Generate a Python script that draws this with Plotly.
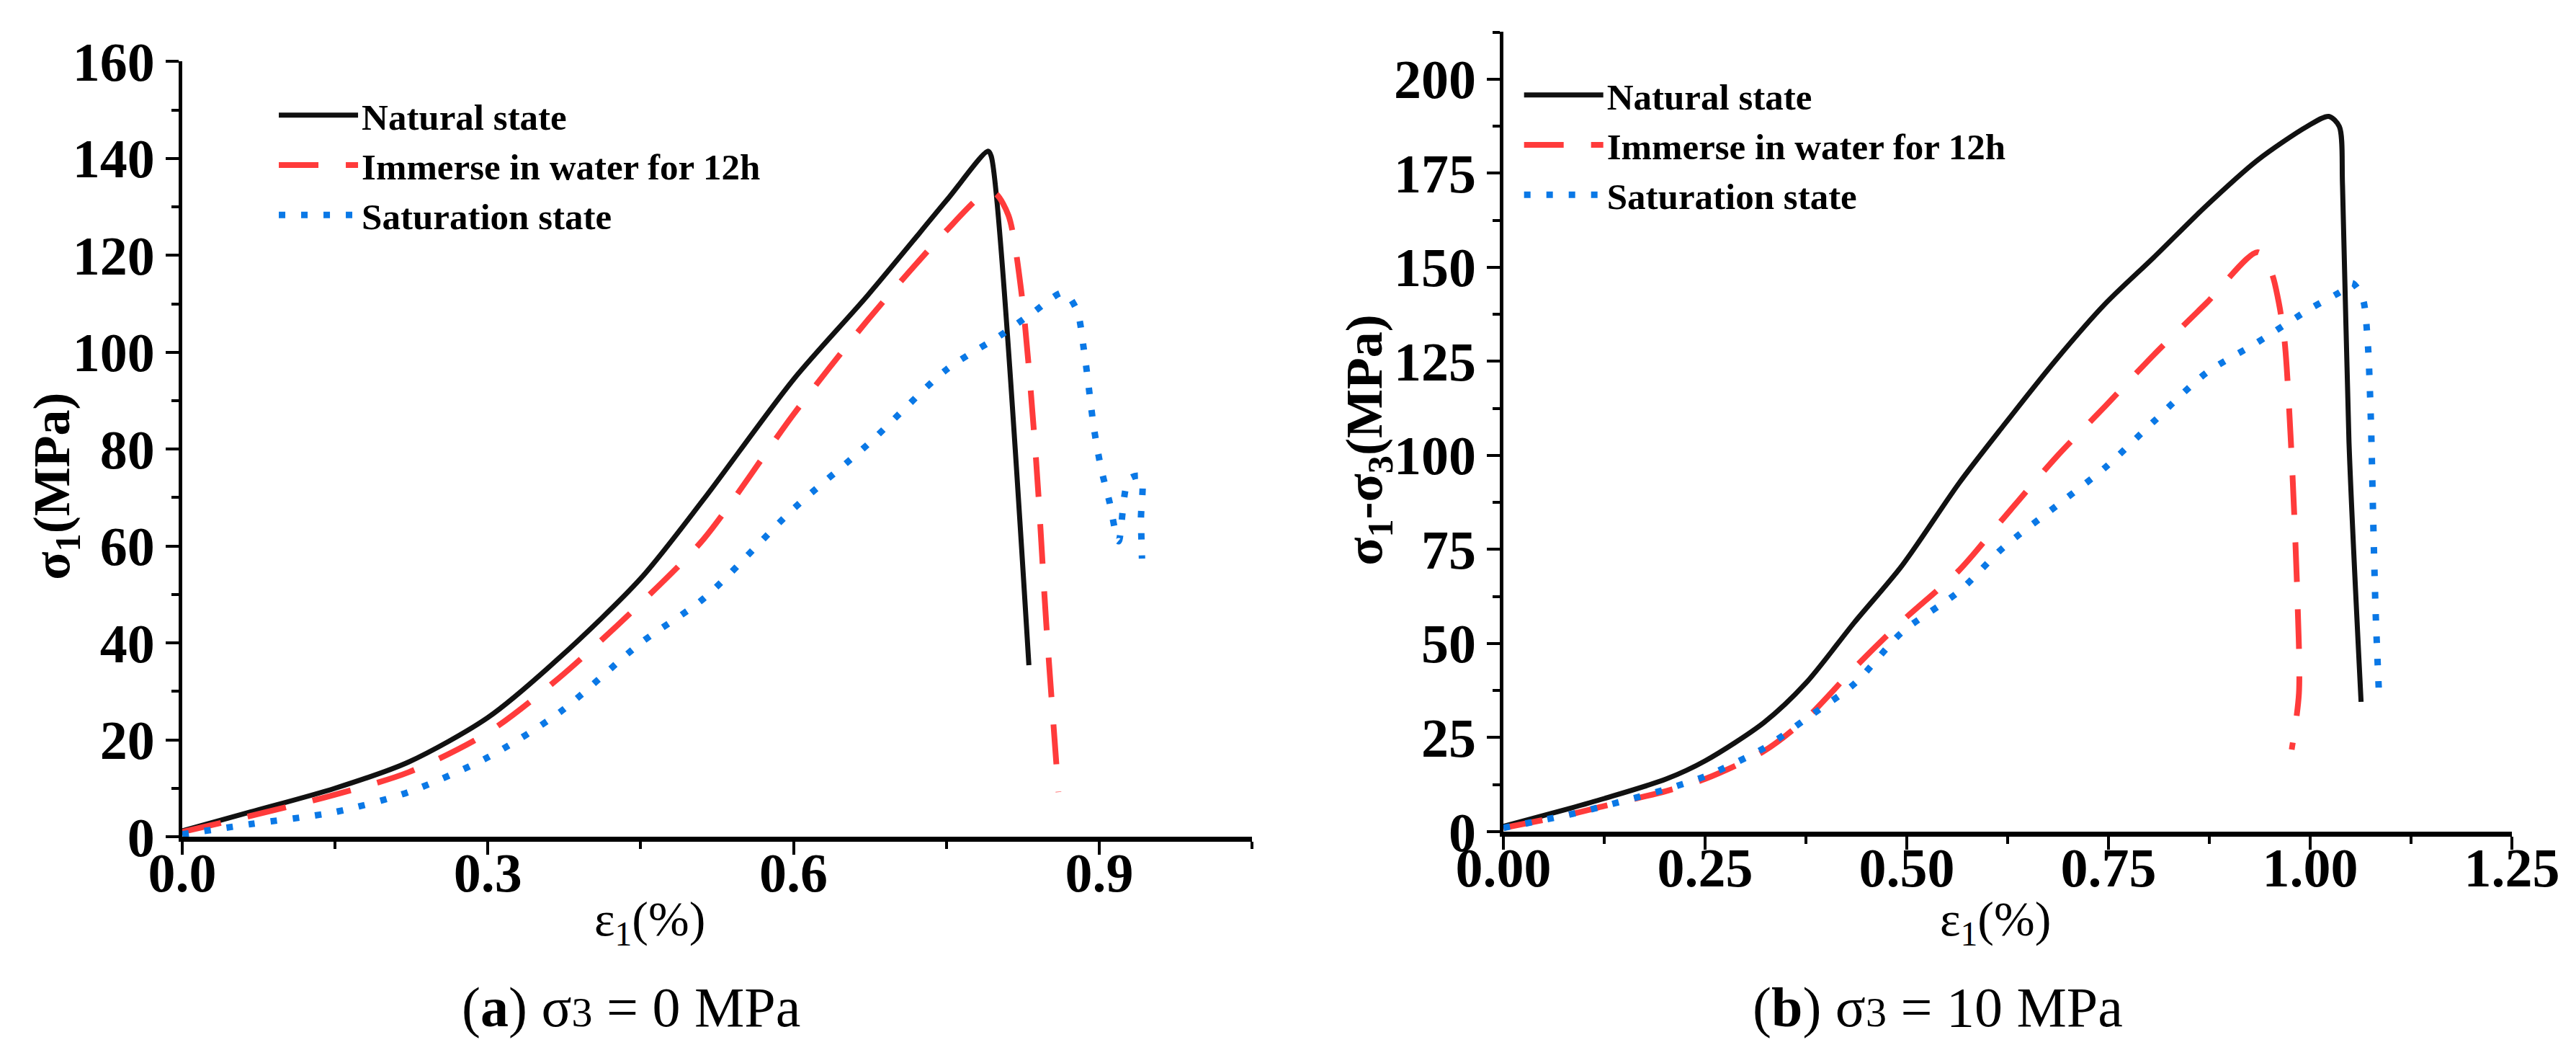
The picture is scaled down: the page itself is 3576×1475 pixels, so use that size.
import plotly.graph_objects as go

# (a) sigma3 = 0 MPa
x_nat_a = [0, 0.067, 0.15, 0.222, 0.3, 0.37, 0.45, 0.512, 0.6, 0.673, 0.75, 0.791, 0.794, 0.831]
y_nat_a = [1.2, 5.1, 10, 15.4, 24.6, 36.9, 53.3, 69.7, 94.4, 111.8, 131.3, 141.5, 140.5, 35.4]

x_imm_a = [0, 0.067, 0.15, 0.222, 0.3, 0.37, 0.45, 0.512, 0.6, 0.673, 0.75, 0.788, 0.798, 0.811,
           0.824, 0.838, 0.848, 0.86]
y_imm_a = [1, 4.3, 8.7, 13.3, 21.5, 32.8, 48.2, 61.5, 87.2, 106.7, 125.1, 132.8, 132.8, 128.2,
           111.8, 77.9, 44.1, 9.2]

x_sat_a = [0, 0.067, 0.15, 0.222, 0.3, 0.37, 0.45, 0.512, 0.6, 0.673, 0.75, 0.804, 0.835, 0.865,
           0.878, 0.885, 0.895, 0.902, 0.91, 0.919, 0.929, 0.941, 0.941, 0.942]
y_sat_a = [0.5, 2.6, 5.1, 9.2, 16.4, 25.6, 40, 49.2, 67.7, 81, 96.4, 103.6, 108.2, 112.3,
           108.7, 100.5, 84.1, 75.9, 69.2, 61, 73.8, 74.4, 65.6, 57.4]

# (b) sigma3 = 10 MPa
x_nat_b = [0, 0.081, 0.125, 0.202, 0.25, 0.323, 0.375, 0.435, 0.494, 0.565, 0.619, 0.685, 0.746,
           0.806, 0.871, 0.935, 0.996, 1.023, 1.036, 1.04, 1.048, 1.063]
y_nat_b = [1.4, 6.1, 8.8, 14, 18.8, 29, 39.5, 55.6, 70.7, 92.7, 107.7, 125.4, 140.3,
           152.6, 166.3, 178.5, 187.4, 190.1, 187.4, 171.7, 103.6, 34.5]

x_imm_b = [0, 0.081, 0.125, 0.202, 0.25, 0.323, 0.375, 0.435, 0.494, 0.565, 0.619, 0.685, 0.746,
           0.806, 0.871, 0.935, 0.952, 0.96, 0.968, 0.976, 0.984, 0.986, 0.977]
y_imm_b = [1, 4.5, 6.8, 10.8, 14, 21.4, 30, 43.5, 55.9, 69.5, 83.1, 99.5, 113.1,
           126.7, 140.4, 154, 148.5, 141.7, 130.8, 103.6, 62.7, 36.8, 21.8]

x_sat_b = [0, 0.081, 0.125, 0.202, 0.25, 0.323, 0.375, 0.435, 0.494, 0.565, 0.619, 0.685, 0.746,
           0.806, 0.871, 0.935, 1.0, 1.04, 1.052, 1.065, 1.071, 1.075, 1.078, 1.081, 1.085]
y_sat_b = [1, 4.5, 6.8, 11.3, 14.7, 22.2, 30, 39.3, 53, 63.9, 75.4, 86.5, 96.8,
           109, 121.9, 130.1, 139, 143.8, 145.8, 141.7, 130.8, 110.4, 83.1, 58.6, 37.5]

names = ["Natural state", "Immerse in water for 12h", "Saturation state"]

xticks_a = [0, 0.3, 0.6, 0.9]
xticktext_a = ["0.0", "0.3", "0.6", "0.9"]
yticks_a = [0, 20, 40, 60, 80, 100, 120, 140, 160]
xticks_b = [0, 0.25, 0.5, 0.75, 1.0, 1.25]
xticktext_b = ["0.00", "0.25", "0.50", "0.75", "1.00", "1.25"]
yticks_b = [0, 25, 50, 75, 100, 125, 150, 175, 200]

FONT = "Liberation Serif"
BLACK = "#111111"
RED = "#ff3b3b"
BLUE = "#0a78e6"

styles = [
    dict(color=BLACK, width=7, dash="solid"),
    dict(color=RED, width=8, dash="55px,38px"),
    dict(color=BLUE, width=9, dash="9px,22px"),
]

fig = go.Figure()

panel_a = [(x_nat_a, y_nat_a), (x_imm_a, y_imm_a), (x_sat_a, y_sat_a)]
panel_b = [(x_nat_b, y_nat_b), (x_imm_b, y_imm_b), (x_sat_b, y_sat_b)]

for i, (xs, ys) in enumerate(panel_a):
    fig.add_trace(go.Scatter(x=xs, y=ys, mode="lines", name=names[i], line=styles[i],
                             line_shape="spline", line_smoothing=0.8,
                             xaxis="x", yaxis="y", legend="legend"))
for i, (xs, ys) in enumerate(panel_b):
    fig.add_trace(go.Scatter(x=xs, y=ys, mode="lines", name=names[i], line=styles[i],
                             line_shape="spline", line_smoothing=0.8,
                             xaxis="x2", yaxis="y2", legend="legend2"))

tickfont = dict(family=FONT, size=76, color="black", weight="bold")
common = dict(showline=True, linecolor="black", showgrid=False, zeroline=False,
              ticks="outside", tickcolor="black", tickwidth=4, ticklen=18,
              tickfont=tickfont, automargin=False)
minor_x = dict(ticks="outside", ticklen=10, tickwidth=4, tickcolor="black", tick0=0)

fig.update_layout(
    width=3576, height=1475,
    margin=dict(l=0, r=0, t=0, b=0, autoexpand=False),
    paper_bgcolor="white", plot_bgcolor="white",
    xaxis=dict(domain=[0.0685, 0.4838], range=[0, 1.05], anchor="y",
               tickvals=xticks_a, ticktext=xticktext_a, linewidth=7, ticklabelstandoff=-40,
               minor=dict(dtick=0.15, **minor_x), **common),
    yaxis=dict(domain=[0.2183, 0.9475], range=[0, 160], anchor="x",
               tickvals=yticks_a, linewidth=5,
               minor=dict(dtick=10, **minor_x), **common),
    xaxis2=dict(domain=[0.5814, 0.9729], range=[0, 1.25], anchor="y2",
                tickvals=xticks_b, ticktext=xticktext_b, linewidth=7, ticklabelstandoff=-40,
                minor=dict(dtick=0.125, **minor_x), **common),
    yaxis2=dict(domain=[0.2231, 0.9756], range=[0, 212.6], anchor="x2",
                tickvals=yticks_b, linewidth=5,
                minor=dict(dtick=12.5, **minor_x), **common),
    legend=dict(x=0.1046, y=0.924, xanchor="left", yanchor="top", bgcolor="rgba(0,0,0,0)",
                font=dict(family=FONT, size=51, color="black", weight="bold"),
                itemwidth=110, tracegroupgap=0),
    legend2=dict(x=0.588, y=0.943, xanchor="left", yanchor="top", bgcolor="rgba(0,0,0,0)",
                 font=dict(family=FONT, size=51, color="black", weight="bold"),
                 itemwidth=110, tracegroupgap=0),
    showlegend=True,
)

ann = [
    dict(text="<b>σ<sub>1</sub>(MPa)</b>", x=0.0193, y=0.548, textangle=-90, size=72),
    dict(text="<b>σ<sub>1</sub>-σ<sub>3</sub>(MPa)</b>", x=0.5288, y=0.592, textangle=-90, size=72),
    dict(text="ε<sub>1</sub>(%)", x=0.25, y=0.138, textangle=0, size=68),
    dict(text="ε<sub>1</sub>(%)", x=0.7724, y=0.138, textangle=0, size=68),
    dict(text="(<b>a</b>) σ<span style='font-size:58px'>3</span> = 0 MPa", x=0.2427, y=0.058, textangle=0, size=78),
    dict(text="(<b>b</b>) σ<span style='font-size:58px'>3</span> = 10 MPa", x=0.75, y=0.058, textangle=0, size=78),
]
for a in ann:
    fig.add_annotation(text=a["text"], x=a["x"], y=a["y"], xref="paper", yref="paper",
                       xanchor="center", yanchor="middle", textangle=a["textangle"],
                       showarrow=False, font=dict(family=FONT, size=a["size"], color="black"))

fig.write_html("out.html")
